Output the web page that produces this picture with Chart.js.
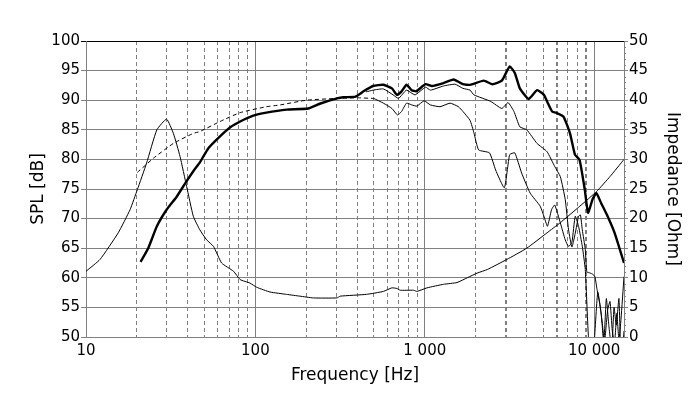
<!DOCTYPE html>
<html>
<head>
<meta charset="utf-8">
<title>SPL / Impedance</title>
<script src="https://cdn.jsdelivr.net/npm/chart.js@4"></script>
<style>
  html, body { margin: 0; padding: 0; background: #fff; }
</style>
</head>
<body>
<canvas id="chart" width="700" height="399"></canvas>
<script>
// DATA
const onAxisFreq = [21, 23.3, 26.2, 29.9, 34.3, 39, 43, 47, 52.8, 61.8, 70.8, 81.3, 97.3, 116, 153, 205, 240, 303, 331, 390, 435, 495, 570, 640, 684, 730, 780, 838, 890, 1010, 1100, 1290, 1480, 1680, 1850, 2230, 2510, 2850, 3170, 3400, 3640, 4100, 4600, 5050, 5270, 5650, 6050, 6600, 7200, 7700, 8200, 8800, 9200, 9800, 10300, 11000, 12000, 13200, 14600, 15000];
const onAxisSpl  = [62.7, 65.0, 68.7, 71.5, 73.7, 76.2, 78.0, 79.5, 81.9, 83.9, 85.4, 86.4, 87.4, 87.9, 88.4, 88.6, 89.4, 90.3, 90.5, 90.6, 91.5, 92.4, 92.6, 92.0, 90.9, 91.5, 92.6, 91.7, 91.5, 92.7, 92.4, 92.9, 93.5, 92.7, 92.6, 93.3, 92.7, 93.3, 95.7, 94.6, 92.0, 90.2, 91.7, 90.9, 89.8, 88.1, 87.8, 87.2, 84.4, 80.8, 79.9, 74.9, 71.0, 73.3, 74.3, 72.6, 70.4, 67.6, 63.6, 62.5];

const simFreq = [20.1, 25, 32.8, 43, 47, 61.8, 81.3, 116, 140, 200, 303, 400, 500];
const simSpl  = [77.8, 80.2, 82.7, 84.4, 84.7, 86.4, 87.9, 88.9, 89.2, 90.0, 90.3, 90.4, 90.3];

const off30Freq = [450, 495, 570, 650, 700, 780, 875, 1010, 1080, 1290, 1510, 1680, 1850, 1950, 2450, 2850, 3100, 3360, 3640, 4000, 4600, 5270, 5850, 6310, 6750, 7060, 7390, 7730, 8090, 8300, 8510, 8860, 9050, 9480, 9800, 10100, 10400, 10800, 11200, 11500, 12000, 12400, 12800, 13200, 13600, 14000, 14400, 15000];
const off30Spl  = [91.4, 91.7, 91.9, 90.9, 90.3, 91.7, 90.9, 92.2, 91.7, 92.4, 92.7, 92.0, 91.7, 90.9, 89.8, 88.6, 89.6, 88.1, 85.5, 85.0, 82.7, 81.3, 78.8, 77.1, 73.2, 68.1, 65.2, 67.5, 70.4, 70.6, 68.1, 64.8, 61.0, 60.8, 60.6, 60.2, 58.0, 55.5, 52.0, 49.0, 54.5, 56.0, 51.0, 49.0, 54.0, 49.5, 53.0, 60.2];

const off60Freq = [500, 570, 640, 690, 730, 780, 838, 899, 990, 1080, 1230, 1410, 1580, 1680, 1850, 1950, 2080, 2410, 2620, 2950, 3170, 3400, 3730, 4190, 4800, 5050, 5300, 5600, 5850, 6310, 6750, 7060, 7390, 7730, 8090, 8510, 8860, 9230, 9600, 10000, 10500, 11000, 11400, 11800, 12200, 12700, 13100, 13500, 14000, 14300, 14700, 15000];
const off60Spl  = [90.3, 89.5, 88.6, 87.5, 88.1, 89.5, 89.2, 89.0, 89.9, 89.2, 88.9, 89.5, 88.9, 88.1, 86.6, 84.5, 81.6, 81.1, 78.2, 75.2, 80.8, 81.1, 77.7, 74.3, 72.1, 70.4, 68.7, 71.5, 72.3, 69.3, 66.4, 65.3, 66.0, 70.4, 68.7, 65.3, 61.4, 50.5, 45.0, 49.0, 57.6, 54.0, 49.0, 56.5, 52.0, 48.0, 55.0, 52.0, 56.5, 49.0, 48.0, 51.0];

const impFreq = [10, 12.1, 15.5, 18.2, 20.1, 22.8, 26.2, 29.9, 32.8, 35.9, 39.3, 43, 47, 51.6, 56.6, 63.2, 74.3, 81.3, 93, 101.8, 122, 153, 183, 220, 303, 317, 452, 570, 639, 684, 716, 859, 899, 1030, 1290, 1550, 1780, 2040, 2340, 3050, 4000, 5270, 6300, 8230, 10350, 12400, 15000];
const impOhm  = [11.1, 13.1, 17.6, 21.5, 24.9, 29.4, 35.0, 36.8, 34.4, 30.5, 25.4, 20.4, 18.1, 16.4, 15.3, 12.5, 11.1, 9.7, 9.1, 8.4, 7.6, 7.2, 6.9, 6.6, 6.6, 6.9, 7.2, 7.7, 8.3, 8.2, 7.9, 7.9, 7.7, 8.3, 8.9, 9.2, 10.0, 10.8, 11.4, 13.1, 15.0, 17.6, 19.3, 22.1, 24.6, 27.1, 30.0];

const decadeLabels = { 10: '10', 100: '100', 1000: '1 000', 10000: '10 000' };
const freqGrid = [];
[10, 100, 1000].forEach(d => { for (let k = 1; k <= 9; k++) freqGrid.push(d * k); });
freqGrid.push(10000);

const GRID = '#808080';
const pts = (xs, ys) => xs.map((x, i) => ({ x, y: ys[i] }));
const isDecade = v => v in decadeLabels;

// small ticks between the major ones on the impedance axis
const minorTicks = {
    id: 'minorTicks',
    afterDraw(chart) {
        const s = chart.scales.y1, ctx = chart.ctx;
        ctx.save();
        ctx.strokeStyle = GRID;
        ctx.lineWidth = 1;
        for (let v = 1; v < 50; v++) {
            if (v % 5 === 0) continue;
            const y = Math.round(s.getPixelForValue(v)) + 0.5;
            ctx.beginPath();
            ctx.moveTo(s.left, y);
            ctx.lineTo(s.left + 2, y);
            ctx.stroke();
        }
        ctx.restore();
    }
};

const font = { family: 'DejaVu Sans', size: 15 };
const titleFont = { family: 'DejaVu Sans', size: 17 };

new Chart(document.getElementById('chart'), {
    type: 'line',
    data: {
        datasets: [
            { data: pts(onAxisFreq, onAxisSpl), borderWidth: 2.4, yAxisID: 'y' },
            { data: pts(simFreq, simSpl), borderWidth: 1, borderDash: [4, 3], yAxisID: 'y' },
            { data: pts(off30Freq, off30Spl), borderWidth: 1, yAxisID: 'y' },
            { data: pts(off60Freq, off60Spl), borderWidth: 1, yAxisID: 'y' },
            { data: pts(impFreq, impOhm), borderWidth: 1, yAxisID: 'y1' }
        ].map(d => ({ ...d, borderColor: '#000', pointRadius: 0, fill: false, tension: 0.15 }))
    },
    options: {
        responsive: false,
        animation: false,
        layout: { padding: { top: 41, left: 0, right: 0, bottom: 0 } },
        plugins: { legend: { display: false }, tooltip: { enabled: false } },
        scales: {
            x: {
                type: 'logarithmic',
                min: 10, max: 15000,
                afterBuildTicks: s => { s.ticks = freqGrid.map(v => ({ value: v })); },
                afterFit: s => { s.height = 62; },
                ticks: {
                    autoSkip: false, maxRotation: 0, color: '#000', font, padding: 5,
                    callback: v => decadeLabels[v] || ''
                },
                grid: {
                    color: GRID, drawTicks: false,
                    lineWidth: c => (c.tick && [3000, 6000, 9000].includes(c.tick.value)) ? 2 : 1
                },
                border: { color: GRID, dash: c => (c.tick && !isDecade(c.tick.value)) ? [4, 3] : [] },
                title: { display: true, text: 'Frequency [Hz]', color: '#000', font: titleFont, padding: { bottom: 13 } }
            },
            y: {
                position: 'left',
                min: 50, max: 100,
                ticks: { stepSize: 5, color: '#000', font, padding: 1 },
                afterFit: s => { s.width = 86; },
                grid: { color: c => (c.tick && c.tick.value === 100) ? '#000' : GRID, tickLength: 5 },
                border: { color: GRID },
                title: { display: true, text: 'SPL [dB]', color: '#000', font: titleFont, padding: { top: 28 } }
            },
            y1: {
                position: 'right',
                min: 0, max: 50,
                ticks: { stepSize: 5, color: '#000', font, padding: 1 },
                afterFit: s => { s.width = 76; },
                grid: { drawOnChartArea: false, color: GRID, tickLength: 4 },
                border: { color: GRID },
                title: { display: true, text: 'Impedance [Ohm]', color: '#000', font: titleFont, padding: { top: 17 } }
            }
        }
    },
    plugins: [minorTicks]
});
</script>
</body>
</html>
